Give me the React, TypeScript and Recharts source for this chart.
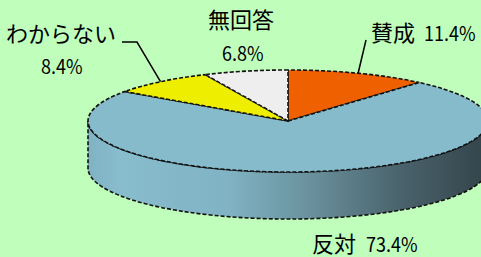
import { PieChart, Pie } from "recharts";

const categories = ["賛成", "反対", "わからない", "無回答"];
const shares = [11.4, 73.4, 8.4, 6.8];
const percentLabels = ["11.4%", "73.4%", "8.4%", "6.8%"];
const topColors = ["#EE6000", "#86BBCC", "#EEEE00", "#EEEEEE"];

const data = categories.map((name, i) => ({ name, value: shares[i] }));

// ellipse squash and side depth, relative to outerRadius
const FLAT = 0.255;
const DEPTH = 0.235;
const FONT = "'Noto Sans CJK JP', 'Noto Sans', sans-serif";

const rim = (cx: number, cy: number, rx: number, deg: number, dy = 0) => {
  const r = (deg * Math.PI) / 180;
  return [cx + rx * Math.cos(r), cy - rx * FLAT * Math.sin(r) + dy];
};

const renderSide = (p: any) => {
  const { cx, cy, outerRadius: rx, startAngle, endAngle, index } = p;
  const s = Math.max(startAngle, endAngle);
  const e = Math.min(startAngle, endAngle);
  const ry = rx * FLAT;
  const d = rx * DEPTH;
  const parts = [];
  for (let k = -2; k <= 1; k++) {
    const lo = Math.max(e, -180 + 360 * k);
    const hi = Math.min(s, 360 * k);
    if (hi <= lo) continue;
    const [x1, y1] = rim(cx, cy, rx, hi);
    const [x2, y2] = rim(cx, cy, rx, lo);
    const large = hi - lo > 180 ? 1 : 0;
    parts.push(
      <path
        key={`${index}-${k}`}
        d={`M${x1},${y1} A${rx},${ry} 0 ${large} 1 ${x2},${y2} L${x2},${y2 + d} A${rx},${ry} 0 ${large} 0 ${x1},${y1 + d} Z`}
        fill={index === 1 ? "url(#sideGrad)" : topColors[index]}
        stroke="#111"
        strokeWidth={1.6}
        strokeDasharray="4 2"
      />
    );
  }
  return <g>{parts}</g>;
};

const renderTop = (p: any) => {
  const { cx, cy, outerRadius: rx, startAngle, endAngle, index } = p;
  const ry = rx * FLAT;
  const [x1, y1] = rim(cx, cy, rx, startAngle);
  const [x2, y2] = rim(cx, cy, rx, endAngle);
  const large = Math.abs(startAngle - endAngle) > 180 ? 1 : 0;
  return (
    <path
      d={`M${cx},${cy} L${x1},${y1} A${rx},${ry} 0 ${large} 1 ${x2},${y2} Z`}
      fill={topColors[index]}
      stroke="#111"
      strokeWidth={1.6}
      strokeDasharray="4 2"
    />
  );
};

// japanese words at natural width
const word = (x: number, y: number, s: string) => (
  <text x={x} y={y} fontSize={22} fontFamily={FONT} fill="#000" dominantBaseline="central">
    {s}
  </text>
);

// percentages are drawn a bit narrow, like the original font
const num = (x: number, y: number, s: string) => (
  <text
    transform={`translate(${x},${y}) scale(0.9,1)`}
    fontSize={20}
    fontFamily={FONT}
    fill="#000"
    dominantBaseline="central"
  >
    {s}
  </text>
);

const renderText = (p: any) => {
  const { cx, cy, outerRadius: rx, midAngle, index } = p;
  const [mx, my] = rim(cx, cy, rx, midAngle);
  if (index === 0) {
    return (
      <g>
        <line x1={mx} y1={my} x2={366} y2={40} stroke="#000" strokeWidth={1.5} />
        {word(371, 31, categories[0])}
        {num(424, 32, percentLabels[0])}
      </g>
    );
  }
  if (index === 1) {
    return (
      <g>
        {word(312, 242, categories[1])}
        {num(366, 243, percentLabels[1])}
      </g>
    );
  }
  if (index === 2) {
    return (
      <g>
        <polyline
          points={`${mx},${my} 137,42 122,42`}
          fill="none"
          stroke="#000"
          strokeWidth={1.5}
        />
        {word(6, 32, categories[2])}
        {num(41, 65, percentLabels[2])}
      </g>
    );
  }
  return (
    <g>
      {word(208, 18, categories[3])}
      {num(222, 52, percentLabels[3])}
    </g>
  );
};

export default function App() {
  return (
    <div
      style={{
        position: "absolute",
        left: 0,
        top: 0,
        width: 481,
        height: 257,
        background: "#BFFFBB",
        overflow: "hidden",
      }}
    >
      <PieChart width={481} height={257} margin={{ top: 0, right: 0, bottom: 0, left: 0 }}>
        <defs>
          <linearGradient id="sideGrad" x1="88" y1="0" x2="488" y2="0" gradientUnits="userSpaceOnUse">
            <stop offset="0%" stopColor="#80B2C2" />
            <stop offset="8%" stopColor="#88BDCE" />
            <stop offset="35%" stopColor="#80B3C3" />
            <stop offset="55%" stopColor="#6A929E" />
            <stop offset="78%" stopColor="#4A636C" />
            <stop offset="100%" stopColor="#33434A" />
          </linearGradient>
        </defs>
        <Pie
          data={data}
          dataKey="value"
          nameKey="name"
          cx={288}
          cy={121}
          outerRadius={200}
          startAngle={90}
          endAngle={-270}
          fill="none"
          stroke="none"
          label={renderSide}
          labelLine={false}
          isAnimationActive={false}
        />
        <Pie
          data={data}
          dataKey="value"
          nameKey="name"
          cx={288}
          cy={121}
          outerRadius={200}
          startAngle={90}
          endAngle={-270}
          fill="none"
          stroke="none"
          label={renderTop}
          labelLine={false}
          isAnimationActive={false}
        />
        <Pie
          data={data}
          dataKey="value"
          nameKey="name"
          cx={288}
          cy={121}
          outerRadius={200}
          startAngle={90}
          endAngle={-270}
          fill="none"
          stroke="none"
          label={renderText}
          labelLine={false}
          isAnimationActive={false}
        />
      </PieChart>
    </div>
  );
}
